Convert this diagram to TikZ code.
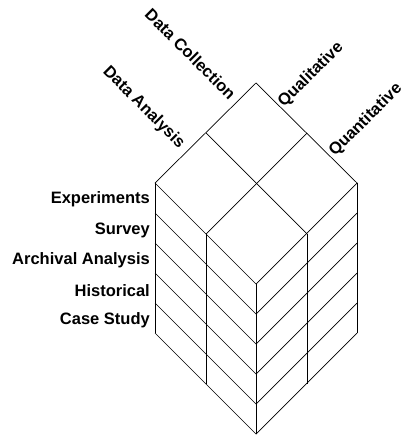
\documentclass[tikz,border=0pt]{standalone}
\usepackage{fontspec}
\setmainfont{Liberation Sans}
\begin{document}
\begin{tikzpicture}[x=1pt,y=-1pt,
  edge/.style={line width=0.7pt, line join=miter, line cap=butt},
  lbl/.style={font=\fontsize{16.5}{19}\selectfont\bfseries, inner sep=0pt},
  rowlbl/.style={lbl, anchor=base east},
  collbl/.style={lbl, anchor=base east, rotate=-45},
  methlbl/.style={lbl, anchor=base west, rotate=45}]
\useasboundingbox (0,0) rectangle (404,435);

% corners of the top face
\coordinate (T) at (256,83);
\coordinate (L) at (155,183);
\coordinate (R) at (357,183);
\coordinate (F) at (256,284);
\coordinate (TL) at (206,133);
\coordinate (TR) at (307,133);
\coordinate (FL) at (206,234);
\coordinate (FR) at (307,234);

% top face, split into four cells
\draw[edge] (T) -- (L) -- (F) -- (R) -- cycle;
\draw[edge] (TL) -- (FR);
\draw[edge] (TR) -- (FL);

% horizontal bands on the two side faces
\foreach \k in {1,...,5}
  \draw[edge] ([yshift=-30*\k pt]L) -- ([yshift=-30*\k pt]F) -- ([yshift=-30*\k pt]R);

% vertical edges of the side faces
\foreach \c in {L,FL,F,FR,R}
  \draw[edge] (\c) -- ([yshift=-150pt]\c);

% row labels
\node[rowlbl] (exp) at (150,204) {Experiments};
\node[rowlbl] (sur) at (150,234) {Survey};
\node[rowlbl] (arc) at (150,264) {Archival Analysis};
\node[rowlbl] (his) at (150,296) {Historical};
\node[rowlbl] (cas) at (150,324) {Case Study};

% labels along the upper edges
\node[collbl] (col) at (229,101) {Data Collection};
\node[collbl] (ana) at (179,149) {Data Analysis};
\node[methlbl] (qual) at (284,108) {Qualitative};
\node[methlbl] (quan) at (335,157) {Quantitative};
\end{tikzpicture}
\end{document}
